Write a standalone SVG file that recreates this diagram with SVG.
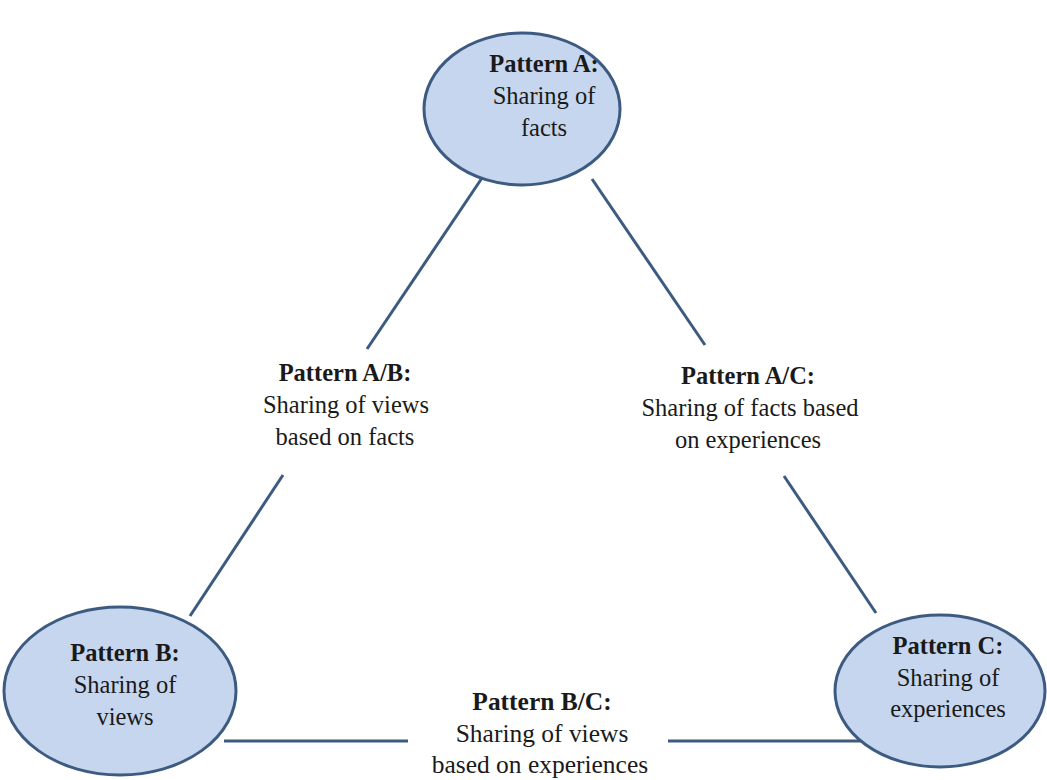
<svg xmlns="http://www.w3.org/2000/svg" width="1047" height="780" viewBox="0 0 1047 780">
<style>
.node{fill:#c6d6ee;stroke:#3d5a80;stroke-width:3}
.conn{stroke:#3d5a80;stroke-width:3;fill:none}
text{font-family:"Liberation Serif","Times New Roman",serif;font-size:24.5px;fill:#1a1a1a;text-anchor:middle}
.b{font-weight:bold}
</style>
<rect width="1047" height="780" fill="#ffffff"/>
<g id="connectors">
<line class="conn" x1="482" y1="178" x2="367" y2="349"/>
<line class="conn" x1="283" y1="475" x2="190" y2="616"/>
<line class="conn" x1="592" y1="179" x2="705" y2="345"/>
<line class="conn" x1="784" y1="476" x2="876" y2="613"/>
<line class="conn" x1="224" y1="741" x2="408" y2="741"/>
<line class="conn" x1="668" y1="741" x2="866" y2="741"/>
</g>
<g id="nodeA">
<ellipse class="node" cx="522" cy="109" rx="98" ry="76"/>
<text x="544" y="72" class="b">Pattern A:</text>
<text x="544" y="104">Sharing of</text>
<text x="544" y="136">facts</text>
</g>
<g id="nodeB">
<ellipse class="node" cx="120" cy="691" rx="116" ry="84"/>
<text x="125" y="661" class="b">Pattern B:</text>
<text x="125" y="693">Sharing of</text>
<text x="125" y="725">views</text>
</g>
<g id="nodeC">
<ellipse class="node" cx="940" cy="691" rx="105" ry="76"/>
<text x="948" y="654" class="b">Pattern C:</text>
<text x="948" y="686">Sharing of</text>
<text x="948" y="717">experiences</text>
</g>
<g id="labelAB">
<text x="345" y="381" class="b">Pattern A/B:</text>
<text x="346" y="413">Sharing of views</text>
<text x="345" y="445">based on facts</text>
</g>
<g id="labelAC">
<text x="748" y="384" class="b">Pattern A/C:</text>
<text x="750" y="416">Sharing of facts based</text>
<text x="748" y="448">on experiences</text>
</g>
<g id="labelBC" transform="translate(542,0) scale(1.04,1)">
<text x="0" y="710" class="b">Pattern B/C:</text>
<text x="0" y="742">Sharing of views</text>
<text x="-2" y="773">based on experiences</text>
</g>
</svg>
